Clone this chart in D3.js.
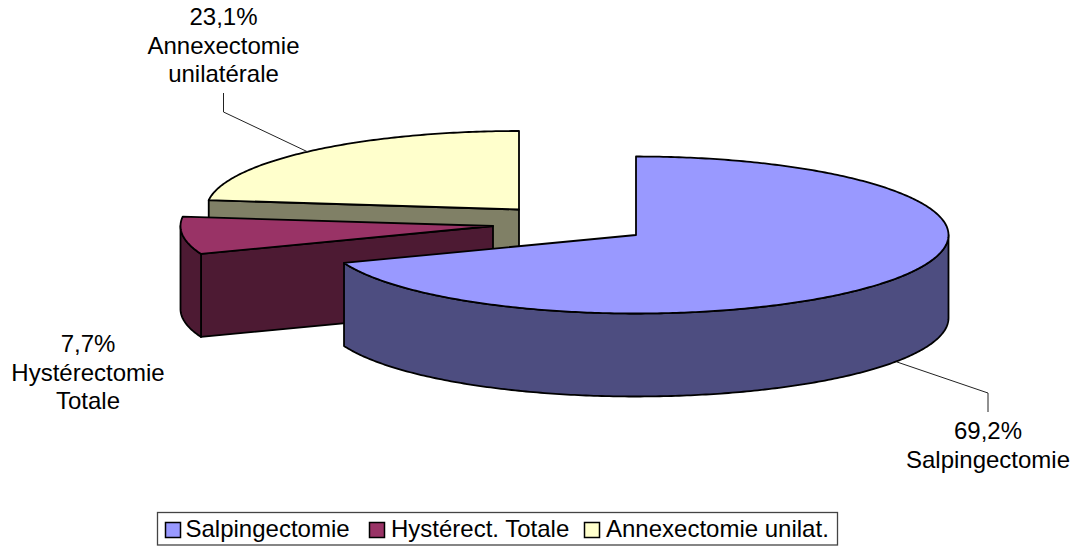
<!DOCTYPE html>
<html lang="fr">
<head>
<meta charset="utf-8">
<style>
  html, body { margin: 0; padding: 0; background: #fff; }
  svg { display: block; }
  text { font-family: "Liberation Sans", Arial, sans-serif; font-size: 24px; fill: #000; }
</style>
</head>
<body>
<svg id="chart" width="1076" height="546"></svg>
<script src="https://cdn.jsdelivr.net/npm/d3@7/dist/d3.min.js"></script>
<script>
// Type d'intervention et part en pourcentage
const categories = ["Salpingectomie", "Hystérectomie Totale", "Annexectomie unilatérale"];
const legendLabels = ["Salpingectomie", "Hystérect. Totale", "Annexectomie unilat."];
const shares = [69.2, 7.7, 23.1];
const topColors = ["#9999ff", "#993366", "#ffffcc"];
const sideColors = ["#4d4d80", "#4d1a33", "#808066"];

// Géométrie du camembert en perspective : chaque part est décalée de son propre centre
const centers = [[636, 235], [493, 226], [519, 209.5]];
const radiusX = 312.5, radiusY = 78.5, depth = 83;

const svg = d3.select("#chart");
const slices = d3.pie().sort(null).value(d => d)(shares);
const unitX = d3.scaleLinear().domain([-1, 1]).range([-radiusX, radiusX]);
const unitY = d3.scaleLinear().domain([-1, 1]).range([-radiusY, radiusY]);
const line = d3.line();

// Point du bord de l'ellipse pour un angle compté depuis le haut, sens horaire
const rim = (c, a, dy = 0) => [c[0] + unitX(Math.sin(a)), c[1] - unitY(Math.cos(a)) + dy];

function arcPoints(c, a0, a1, dy = 0) {
  const n = Math.max(2, Math.ceil((a1 - a0) * 80));
  return d3.range(n + 1).map(i => rim(c, a0 + (a1 - a0) * i / n, dy));
}

function shape(points, fill) {
  svg.append("path")
    .attr("d", line(points) + "Z")
    .attr("fill", fill)
    .attr("stroke", "#000")
    .attr("stroke-width", 1.8)
    .attr("stroke-linejoin", "round");
}

// Ordre de dessin de l'arrière vers l'avant
[2, 1, 0].forEach(i => {
  const s = slices[i], c = centers[i];
  const side = sideColors[i];

  // Face de coupe de départ : visible quand elle se tourne vers l'observateur
  if (Math.sin(s.startAngle) < -1e-6) {
    const r = rim(c, s.startAngle);
    shape([r, c, [c[0], c[1] + depth], [r[0], r[1] + depth]], side);
  }
  // Face de coupe de fin
  if (Math.sin(s.endAngle) > 1e-6) {
    const r = rim(c, s.endAngle);
    shape([r, c, [c[0], c[1] + depth], [r[0], r[1] + depth]], side);
  }

  // Paroi extérieure : seule la moitié avant de l'ellipse est visible
  const a0 = Math.max(s.startAngle, Math.PI / 2);
  const a1 = Math.min(s.endAngle, 3 * Math.PI / 2);
  if (a1 > a0) {
    shape(arcPoints(c, a0, a1).concat(arcPoints(c, a0, a1, depth).reverse()), side);
  }

  // Face supérieure
  shape([c].concat(arcPoints(c, s.startAngle, s.endAngle)), topColors[i]);
});

// Traits de rappel
const leaders = [
  [[897, 362], [988, 393], [988, 412]],
  [[308, 152], [223.5, 112], [223.5, 93]]
];
leaders.forEach(points => {
  svg.append("path").attr("d", line(points)).attr("fill", "none")
    .attr("stroke", "#222").attr("stroke-width", 1);
});

// Étiquettes : pourcentage puis intitulé
const pct = v => v.toFixed(1).replace(".", ",") + "%";
const labelLines = [["Salpingectomie"], ["Hystérectomie", "Totale"], ["Annexectomie", "unilatérale"]];
const labelPos = [[988, 439], [88, 352], [223.5, 25]];
shares.forEach((v, i) => {
  const t = svg.append("text").attr("text-anchor", "middle");
  [pct(v)].concat(labelLines[i]).forEach((txt, j) => {
    t.append("tspan").attr("x", labelPos[i][0]).attr("y", labelPos[i][1] + j * 28.5).text(txt);
  });
});

// Légende
const legend = svg.append("g");
legend.append("rect").attr("x", 157.5).attr("y", 512.5).attr("width", 680).attr("height", 32.5)
  .attr("fill", "#fff").attr("stroke", "#444").attr("stroke-width", 1.3);
const legendX = [165, 369, 584];
const legendTextX = [185.5, 391, 606];
legendLabels.forEach((d, i) => {
  legend.append("rect").attr("x", legendX[i] + 0.5).attr("y", 522.5).attr("width", 15).attr("height", 15)
    .attr("fill", topColors[i]).attr("stroke", "#000").attr("stroke-width", 1.5);
  legend.append("text").attr("x", legendTextX[i]).attr("y", 537).text(d);
});
</script>
</body>
</html>
